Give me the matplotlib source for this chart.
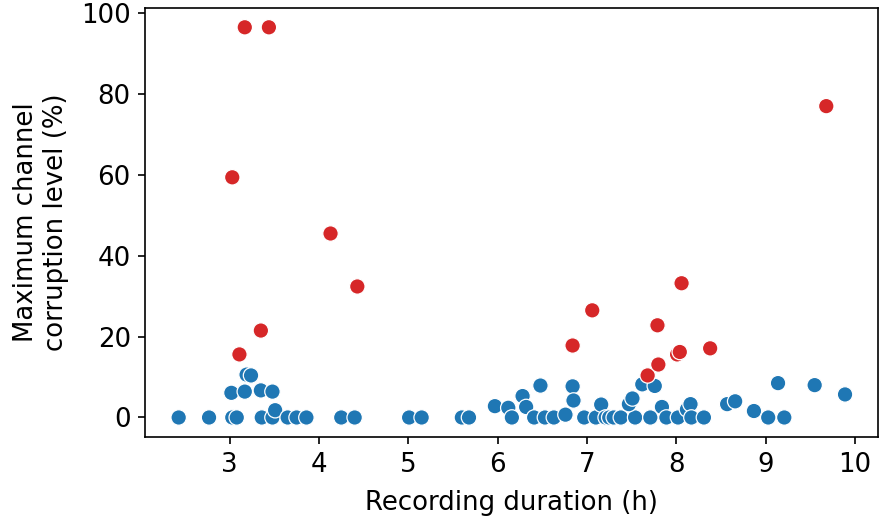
import numpy as np
import pandas as pd
import matplotlib
matplotlib.use("Agg")
import matplotlib.pyplot as plt
import seaborn as sns

# recordings with max channel corruption above threshold (red) and below (blue)
red_duration = [3.17, 3.44, 3.03, 3.11, 3.35, 4.13, 4.43, 6.84, 7.06, 7.68,
                7.80, 7.79, 8.06, 8.01, 8.04, 8.38, 9.68]
red_corruption = [96.5, 96.5, 59.4, 15.6, 21.5, 45.5, 32.4, 17.8, 26.5, 10.4,
                  13.1, 22.8, 33.2, 15.6, 16.2, 17.1, 77.0]

blue_duration = [2.43, 2.77, 3.03, 3.08, 3.02, 3.17, 3.35, 3.48, 3.19, 3.24,
                 3.36, 3.48, 3.51, 3.65, 3.75, 3.86, 4.25, 4.40, 5.01, 5.15,
                 5.60, 5.68, 5.97, 6.12, 6.16, 6.28, 6.32, 6.41, 6.48, 6.53,
                 6.63, 6.76, 6.84, 6.85, 6.97, 7.10, 7.16, 7.21, 7.25, 7.30,
                 7.38, 7.54, 7.47, 7.51, 7.62, 7.76, 7.84, 7.71, 7.89, 8.02,
                 8.12, 8.16, 8.17, 8.31, 8.57, 8.66, 8.87, 9.03, 9.21, 9.14,
                 9.55, 9.89]
blue_corruption = [0.0, 0.0, 0.0, 0.0, 6.1, 6.4, 6.7, 6.4, 10.6, 10.4,
                   0.0, 0.0, 1.8, 0.0, 0.0, 0.0, 0.0, 0.0, 0.0, 0.0,
                   0.0, 0.0, 2.8, 2.4, 0.0, 5.3, 2.6, 0.0, 7.9, 0.0,
                   0.0, 0.7, 7.7, 4.2, 0.0, 0.0, 3.2, 0.0, 0.0, 0.0,
                   0.0, 0.0, 3.3, 4.7, 8.2, 7.8, 2.6, 0.0, 0.0, 0.0,
                   2.0, 3.3, 0.0, 0.0, 3.3, 4.0, 1.6, 0.0, 0.0, 8.5,
                   8.0, 5.7]

df = pd.DataFrame({
    "duration": blue_duration + red_duration,
    "corruption": blue_corruption + red_corruption,
    "group": ["ok"] * len(blue_duration) + ["bad"] * len(red_duration),
})

plt.rcParams["font.size"] = 12.5
fig, ax = plt.subplots(figsize=(881 / 150, 519 / 150), dpi=150)
fig.subplots_adjust(left=0.165, right=0.997, top=0.985, bottom=0.158)

sns.scatterplot(data=df, x="duration", y="corruption", hue="group",
                palette={"ok": "tab:blue", "bad": "tab:red"}, s=55,
                legend=False, ax=ax)

ax.set_xlabel("Recording duration (h)", labelpad=6)
ax.set_ylabel("Maximum channel\ncorruption level (%)", labelpad=6)

fig.savefig("out.png", dpi=150)
